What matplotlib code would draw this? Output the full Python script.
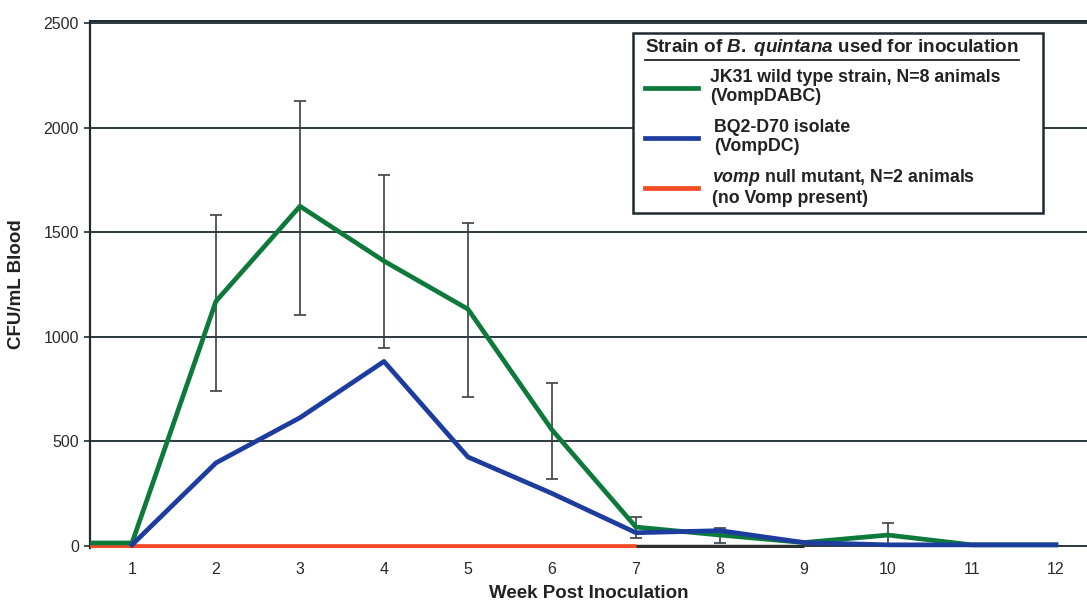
import numpy as np
import matplotlib
matplotlib.use("Agg")
import matplotlib.pyplot as plt
from matplotlib.lines import Line2D
from matplotlib.patches import Rectangle

plt.rcParams['font.family'] = ['Liberation Sans', 'DejaVu Sans']
plt.rcParams['mathtext.fontset'] = 'custom'
plt.rcParams['mathtext.it'] = 'Liberation Sans:italic:bold'
plt.rcParams['mathtext.rm'] = 'Liberation Sans:bold'

# data (CFU/mL blood)
weeks = [0, 1, 2, 3, 4, 5, 6, 7, 8, 9, 10, 11, 12]
jk31 = [14, 14, 1170, 1624, 1362, 1132, 555, 90, 52, 16, 52, 5, 5]
bq2 = [np.nan, 5, 397, 613, 882, 425, 251, 63, 73, 16, 5, 5, 5]
vomp_weeks = [0, 1, 2, 3, 4, 5, 6, 7]
vomp = [0, 0, 0, 0, 0, 0, 0, 0]
tail_weeks = [7, 8, 9]
tail = [0, 0, 0]

# error bars on the wild type curve
err_weeks = [2, 3, 4, 5, 6, 7, 8, 10]
err_mid = [1170, 1624, 1362, 1132, 555, 90, 52, 52]
err_low = [743, 1103, 946, 711, 319, 37, 16, 0]
err_high = [1584, 2129, 1775, 1544, 778, 140, 88, 111]

xticks = list(range(1, 13))
yticks = [0, 500, 1000, 1500, 2000, 2500]

GREEN = '#0d7a3c'
BLUE = '#1c3c9e'
RED = '#f24a25'
DARK = '#1e2a30'

W, H = 1087, 607
fig = plt.figure(figsize=(W / 100, H / 100), dpi=100)
fig.patch.set_facecolor('white')

# axes placement in pixels
left, right, top, bottom = 90, 1087, 20.5, 548
ax = fig.add_axes([left / W, 1 - bottom / H, (right - left) / W, (bottom - top) / H])
ax.set_xlim(0.5, 12.37)
ax.set_ylim(-10, 2512)

for y in yticks[1:]:
    ax.axhline(y, color=DARK, lw=1.3, zorder=1)
ax.axhline(0, color=DARK, lw=1.3, zorder=1)

lo = np.array(err_mid) - np.array(err_low)
hi = np.array(err_high) - np.array(err_mid)
ax.errorbar(err_weeks, err_mid, yerr=[lo, hi], fmt='none', ecolor='#3a3f42',
            elinewidth=1.2, capsize=4, capthick=1.2, zorder=2)

ax.plot(vomp_weeks, vomp, color=RED, lw=3.4, zorder=3, solid_capstyle='butt')
ax.plot(tail_weeks, tail, color='#2b2f31', lw=2.5, zorder=3, solid_capstyle='butt')
ax.plot(weeks, jk31, color=GREEN, lw=3.4, zorder=4)
ax.plot(weeks, bq2, color=BLUE, lw=3.4, zorder=5)

ax.set_xticks(xticks)
ax.set_yticks(yticks)
ax.tick_params(axis='x', length=0, pad=10, labelsize=11.5, labelcolor='#2a2a2a')
ax.tick_params(axis='y', length=4, width=1.2, color=DARK, pad=4, labelsize=11.5, labelcolor='#2a2a2a')

for s in ['right', 'bottom']:
    ax.spines[s].set_visible(False)
ax.spines['left'].set_color(DARK)
ax.spines['left'].set_linewidth(1.6)
ax.spines['top'].set_color(DARK)
ax.spines['top'].set_linewidth(1.4)

ax.set_xlabel('Week Post Inoculation', fontsize=13.5, fontweight='bold', color='#222222', va='center')
ax.xaxis.set_label_coords(0.5, (bottom - 593) / (bottom - top))
ax.set_ylabel('CFU/mL Blood', fontsize=13.5, fontweight='bold', color='#222222', va='center')
ax.yaxis.set_label_coords((17 - left) / (right - left), 0.5)

# legend box, drawn by hand (mixed italic text)
def fx(x):
    return x / W

def fy(y):
    return 1 - y / H

box = Rectangle((fx(633), fy(213)), fx(1043) - fx(633), fy(33) - fy(213),
                transform=fig.transFigure, facecolor='white', edgecolor=DARK, lw=1.8, zorder=10)
fig.add_artist(box)

title = fig.text(fx(645), fy(48), r'Strain of $\mathit{B.\;quintana}$ used for inoculation',
                 fontsize=13.6, fontweight='bold', color='#222222', va='center', ha='left', zorder=11)

entries = [
    (GREEN, 88, 710, 'JK31 wild type strain, N=8 animals\n(VompDABC)'),
    (BLUE, 138, 714, 'BQ2-D70 isolate\n(VompDC)'),
    (RED, 188, 712, r'$\mathit{vomp}$ null mutant, N=2 animals' + '\n(no Vomp present)'),
]
for col, yc, xt, lab in entries:
    fig.add_artist(Line2D([fx(645), fx(698)], [fy(yc), fy(yc)], color=col, lw=3.4,
                          transform=fig.transFigure, zorder=11))
    fig.text(fx(xt), fy(yc - 1), lab, fontsize=12.8, fontweight='bold', color='#222222',
             va='center', ha='left', linespacing=1.12, zorder=11)

# underline the legend title
fig.canvas.draw()
bb = title.get_window_extent()
fig.add_artist(Line2D([bb.x0 / W, bb.x1 / W], [(bb.y0 - 1) / H, (bb.y0 - 1) / H],
                      color='#222222', lw=1.3, transform=fig.transFigure, zorder=11))

fig.savefig('out.png', dpi=100)
